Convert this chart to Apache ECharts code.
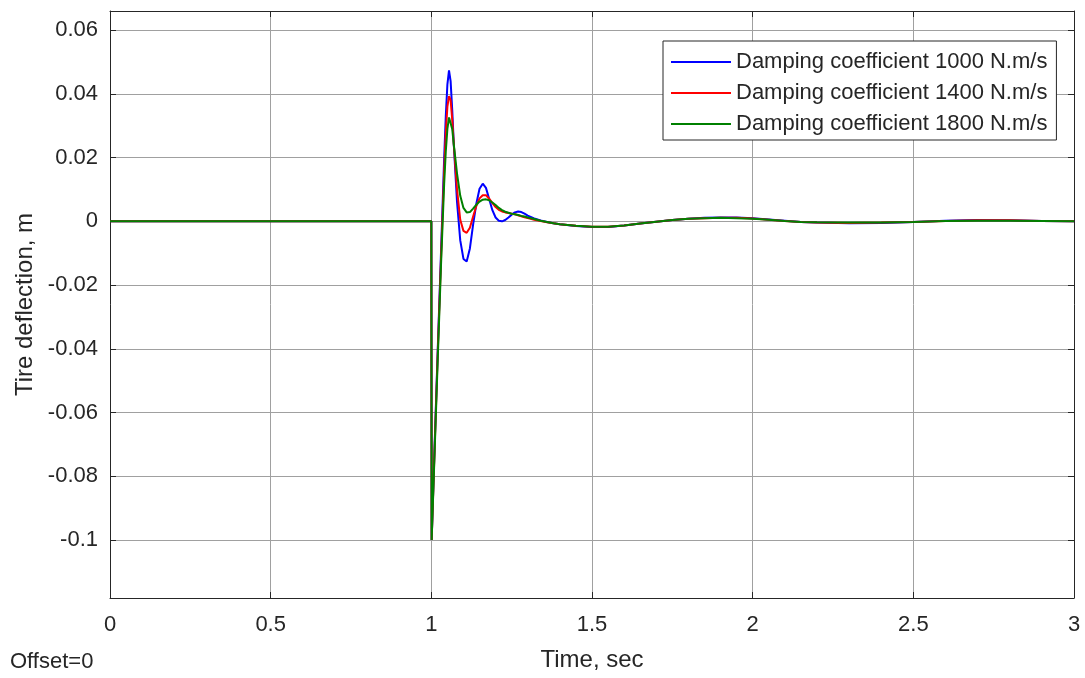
<!DOCTYPE html>
<html>
<head>
<meta charset="utf-8">
<script src="https://cdn.jsdelivr.net/npm/echarts@6/dist/echarts.min.js"></script>
<style>
html,body{margin:0;padding:0;background:#fff;}
#chart{width:1085px;height:678px;}
</style>
</head>
<body>
<div id="chart"></div>
<script>
// Time samples (s)
const time = [0, 1.0, 1.001, 1.01, 1.02, 1.03, 1.04, 1.045, 1.05, 1.055, 1.06, 1.065, 1.07,
  1.08, 1.09, 1.10, 1.11, 1.12, 1.13, 1.14, 1.15, 1.16, 1.17, 1.18, 1.19, 1.20, 1.21, 1.22, 1.23, 1.24, 1.25, 1.26, 1.27, 1.28, 1.29, 1.30,
  1.32, 1.34, 1.36, 1.38, 1.40,
  1.45, 1.50, 1.55, 1.60, 1.65, 1.70, 1.75, 1.80, 1.85, 1.90, 1.95, 2.00, 2.05, 2.10, 2.15, 2.20,
  2.30, 2.40, 2.50, 2.60, 2.70, 2.80, 2.90, 3.00];

// Tire deflection (m)
const damp1000 = [0, 0, -0.1, -0.071, -0.040, -0.010, 0.020, 0.033, 0.043, 0.0474, 0.044, 0.035, 0.024,
  0.006, -0.006, -0.0118, -0.0126, -0.0085, -0.001, 0.0055, 0.0102, 0.0118, 0.0105, 0.0070, 0.0035, 0.0012, 0.0002, 0.0, 0.0004, 0.0012, 0.0021, 0.0028, 0.0031, 0.0029, 0.0024, 0.0018,
  0.0009, 0.0003, -0.0002, -0.0006, -0.0009,
  -0.0015, -0.0018, -0.0018, -0.0013, -0.0007, -0.0001, 0.0004, 0.0008, 0.0011, 0.0012, 0.0012, 0.0010, 0.0006, 0.0002, -0.0002, -0.0004,
  -0.0006, -0.0005, -0.0002, 0.0002, 0.0004, 0.0003, 0.0001, 0.0];

const damp1400 = [0, 0, -0.1, -0.072, -0.041, -0.012, 0.016, 0.028, 0.036, 0.0393, 0.038, 0.032, 0.024,
  0.010, 0.0005, -0.003, -0.0036, -0.002, 0.0015, 0.0048, 0.0072, 0.0082, 0.0082, 0.0071, 0.0057, 0.0045, 0.0036, 0.0031, 0.0028, 0.0026, 0.0024, 0.0022, 0.0019, 0.0016, 0.0013, 0.0010,
  0.0005, 0.0001, -0.0003, -0.0006, -0.0009,
  -0.0014, -0.0017, -0.0017, -0.0013, -0.0007, -0.0001, 0.0004, 0.0008, 0.0010, 0.0011, 0.0011, 0.0009, 0.0005, 0.0001, -0.0002, -0.0004,
  -0.0005, -0.0004, -0.0002, 0.0001, 0.0003, 0.0003, 0.0001, 0.0];

const damp1800 = [0, 0, -0.1, -0.073, -0.043, -0.014, 0.012, 0.022, 0.029, 0.0326, 0.0325, 0.029, 0.024,
  0.015, 0.008, 0.0042, 0.0028, 0.0029, 0.0040, 0.0052, 0.0062, 0.0068, 0.0069, 0.0066, 0.0059, 0.0051, 0.0042, 0.0035, 0.0030, 0.0027, 0.0024, 0.0022, 0.0020, 0.0017, 0.0015, 0.0012,
  0.0007, 0.0002, -0.0002, -0.0006, -0.0009,
  -0.0014, -0.0017, -0.0017, -0.0013, -0.0007, -0.0001, 0.0004, 0.0008, 0.0010, 0.0011, 0.0010, 0.0008, 0.0005, 0.0001, -0.0002, -0.0003,
  -0.0004, -0.0004, -0.0002, 0.0001, 0.0002, 0.0002, 0.0001, 0.0];

const seriesNames = ['Damping coefficient 1000 N.m/s', 'Damping coefficient 1400 N.m/s', 'Damping coefficient 1800 N.m/s'];
const seriesColors = ['#0000ff', '#ff0000', '#008000'];
const seriesValues = [damp1000, damp1400, damp1800];

const xMin = 0, xMax = 3, xStep = 0.5;
const yMin = -0.1182, yMax = 0.066, yStep = 0.02;

const FONT = '"Liberation Sans", Arial, Helvetica, sans-serif';
const TXT = '#262626';

function yFmt(v) {
  const k = Math.round(v / yStep);
  if (Math.abs(v - k * yStep) > 1e-7) return '';
  const r = +(k * yStep).toFixed(2);
  return r === 0 ? '0' : String(r);
}
function xFmt(v) {
  const r = +v.toFixed(2);
  return r === 0 ? '0' : String(r);
}

const chart = echarts.init(document.getElementById('chart'), null, {renderer: 'canvas'});
const option = {
  animation: false,
  backgroundColor: '#ffffff',
  grid: {left: 110, top: 11, right: 11, bottom: 80, containLabel: false},
  legend: {
    orient: 'vertical',
    left: 663, top: 41,
    padding: [10, 9, 5, 8],
    icon: 'rect',
    itemWidth: 60, itemHeight: 2, itemGap: 9,
    backgroundColor: '#ffffff',
    borderColor: TXT, borderWidth: 1,
    textStyle: {fontFamily: FONT, fontSize: 22, color: TXT, lineHeight: 22},
    data: seriesNames
  },
  graphic: [{
    type: 'text', left: 10, top: 651,
    style: {text: 'Offset=0', fontFamily: FONT, fontSize: 22, fill: TXT}
  }],
  xAxis: [{
    type: 'value', min: xMin, max: xMax, interval: xStep,
    name: 'Time, sec', nameLocation: 'middle', nameGap: 50,
    nameTextStyle: {fontFamily: FONT, fontSize: 24, color: TXT},
    axisLine: {show: true, onZero: false, lineStyle: {color: TXT, width: 1}},
    axisTick: {show: true, inside: true, length: 6, lineStyle: {color: TXT}},
    axisLabel: {fontFamily: FONT, fontSize: 22, color: TXT, margin: 16, formatter: xFmt},
    splitLine: {show: true, lineStyle: {color: '#a0a0a0', width: 1}}
  }, {
    type: 'value', position: 'top', min: xMin, max: xMax, interval: xStep,
    axisLine: {show: true, onZero: false, lineStyle: {color: TXT, width: 1}},
    axisTick: {show: true, inside: true, length: 6, lineStyle: {color: TXT}},
    axisLabel: {show: false}, splitLine: {show: false}
  }],
  yAxis: [{
    type: 'value', min: yMin, max: yMax, splitNumber: 9,
    name: 'Tire deflection, m', nameLocation: 'middle', nameGap: 73,
    nameTextStyle: {fontFamily: FONT, fontSize: 24, color: TXT},
    axisLine: {show: true, onZero: false, lineStyle: {color: TXT, width: 1}},
    axisTick: {show: true, inside: true, length: 6, lineStyle: {color: TXT}},
    axisLabel: {fontFamily: FONT, fontSize: 22, color: TXT, margin: 12, formatter: yFmt, showMinLabel: false, showMaxLabel: false},
    splitLine: {show: true, lineStyle: {color: '#a0a0a0', width: 1}}
  }, {
    type: 'value', position: 'right', min: yMin, max: yMax, splitNumber: 9,
    axisLine: {show: true, onZero: false, lineStyle: {color: TXT, width: 1}},
    axisTick: {show: true, inside: true, length: 6, lineStyle: {color: TXT}},
    axisLabel: {show: false}, splitLine: {show: false}
  }],
  series: seriesValues.map((vals, i) => ({
    name: seriesNames[i],
    type: 'line',
    xAxisIndex: 0, yAxisIndex: 0,
    symbol: 'none',
    smooth: false,
    lineStyle: {color: seriesColors[i], width: 2},
    itemStyle: {color: seriesColors[i]},
    data: time.map((t, j) => [t, vals[j]])
  }))
};
chart.setOption(option);
</script>
</body>
</html>
